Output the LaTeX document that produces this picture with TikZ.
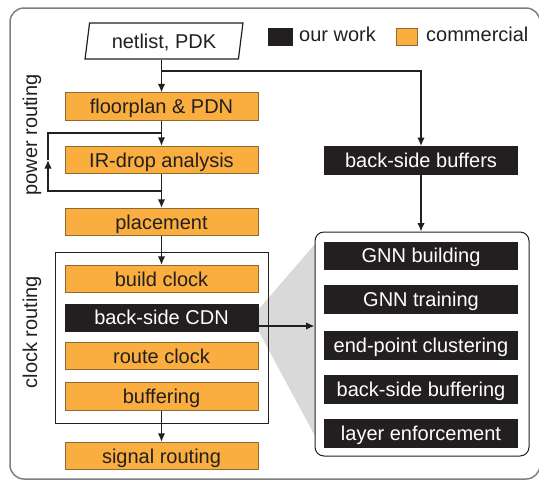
\documentclass[tikz,border=0pt]{standalone}
\usepackage{fontspec}
\setmainfont{Liberation Sans}
\usetikzlibrary{arrows.meta,shapes.geometric}
\definecolor{orng}{HTML}{F9AE3F}
\definecolor{orngline}{HTML}{8C6A30}
\definecolor{ink}{HTML}{231F20}
\definecolor{wedgegray}{HTML}{D9D9D9}
\definecolor{framegray}{HTML}{7F7F7F}
\tikzset{
  txt/.style={font=\fontsize{20}{23}\selectfont, text=ink},
  captxt/.style={txt, text height=14.3pt, text depth=0pt},
  combox/.style={captxt, fill=orng, draw=orngline, line width=0.8pt, minimum width=193pt, minimum height=27.5pt, inner sep=0pt},
  ourbox/.style={captxt, fill=ink, draw=ink, text=white, minimum width=193pt, minimum height=27.5pt, inner sep=0pt},
  arr/.style={line width=1.4pt, draw=ink, -{Latex[length=8.5pt,width=7.5pt]}},
  wire/.style={line width=1.4pt, draw=ink},
}
\begin{document}
\begin{tikzpicture}[x=1pt,y=-1pt]
\useasboundingbox (0,0) rectangle (539,480);
\begin{scope}
\clip (0,0) rectangle (539,480);
\draw[framegray, line width=1.5pt, rounded corners=14pt] (10,8) rectangle (540,479);
\end{scope}

% legend
\node[fill=ink, draw=ink, minimum width=24pt, minimum height=17pt, inner sep=0pt] (lgo) at (280,36.5) {};
\node[captxt, anchor=west, inner sep=0pt] (lgot) at (299,34.5) {our work};
\node[fill=orng, draw=orngline, line width=0.8pt, minimum width=21pt, minimum height=17pt, inner sep=0pt] (lgc) at (406.5,36.5) {};
\node[captxt, anchor=west, inner sep=0pt] (lgct) at (426,34.5) {commercial};

% input
\node[captxt, trapezium, trapezium left angle=77.5, trapezium right angle=102.5, trapezium stretches=true, draw=ink, line width=1.2pt, fill=white, minimum width=158pt, minimum height=36pt, inner sep=0pt] (net) at (164,41) {netlist, PDK};

% side labels
\node[txt, rotate=90] (pwr) at (32,135) {power routing};
\node[txt, rotate=90] (clkl) at (32,332) {clock routing};

% zoom wedge
\fill[wedgegray] (258,310) -- (315,244) -- (315,436) -- (258,330) -- cycle;

% clock routing group
\node[draw=ink, line width=1pt, minimum width=213pt, minimum height=171pt, inner sep=0pt] (clk) at (161.5,337.5) {};

% main flow
\node[combox] (fp) at (161.5,106.5) {floorplan \& PDN};
\node[combox] (ir) at (161.5,160) {IR-drop analysis};
\node[combox] (pl) at (161.5,222) {placement};
\node[combox] (bc) at (161.5,279) {build clock};
\node[ourbox] (cdn) at (161.5,317.5) {back-side CDN};
\node[combox] (rc) at (161.5,356) {route clock};
\node[combox] (bf) at (161.5,396.5) {buffering};
\node[combox] (sr) at (161.5,456) {signal routing};

% right column
\node[ourbox] (bsb) at (421,160) {back-side buffers};
\node[draw=ink, line width=1pt, fill=white, rounded corners=9pt, minimum width=214pt, minimum height=224pt, inner sep=0pt] (gnn) at (422,344) {};
\node[ourbox] (g1) at (421,255.5) {GNN building};
\node[ourbox] (g2) at (421,299) {GNN training};
\node[ourbox] (g3) at (421,345) {end-point clustering};
\node[ourbox] (g4) at (421,389) {back-side buffering};
\node[ourbox] (g5) at (421,433) {layer enforcement};

% connectors
\coordinate (br) at (161.5,71);
\coordinate (lpb) at (161.5,191);
\coordinate (lpm) at (48,160);
\coordinate (lpt) at (161.5,133);
\coordinate (cdnout) at (258,326);
\draw[arr] (net.south -| fp.north) -- (fp.north);
\draw[arr] (br) -| (bsb.north);
\draw[arr] (fp.south) -- (ir.north);
\draw[arr] (ir.south) -- (pl.north);
\draw[arr] (lpb) -| (lpm);
\draw[wire] (lpm) |- (lpt);
\draw[arr] (pl.south) -- (bc.north);
\draw[arr] (bf.south) -- (sr.north);
\draw[arr] (bsb.south) -- (gnn.north -| bsb.south);
\draw[arr] (cdnout) -- (cdnout -| gnn.west);
\end{tikzpicture}
\end{document}
